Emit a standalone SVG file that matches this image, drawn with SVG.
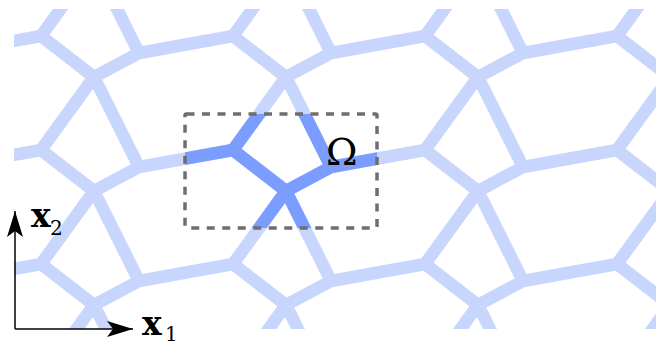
<svg xmlns="http://www.w3.org/2000/svg" xmlns:xlink="http://www.w3.org/1999/xlink" width="656" height="349" viewBox="0 0 656 349">
  <style>
    .light { fill: none; stroke: #c8d6fe; stroke-width: 12.5; stroke-linecap: round; stroke-linejoin: round; }
    .dark { fill: none; stroke: #7b9dff; stroke-width: 12.5; stroke-linecap: round; stroke-linejoin: round; }
    .dash { fill: none; stroke: #6e6e6e; stroke-width: 3.5; stroke-dasharray: 8 7.5; stroke-linejoin: round; }
    .axis { fill: none; stroke: #000; stroke-width: 1.5; }
    .lbl { font-family: "DejaVu Serif", "Liberation Serif", serif; fill: #000; }
  </style>
  <defs>
    <clipPath id="area"><rect x="14" y="9" width="660" height="320"/></clipPath>
    <clipPath id="boxclip"><rect x="185" y="114" width="192" height="114"/></clipPath>
    <g id="cell">
      <path d="M233,150 L286,191 M286,191 L331,167 M331,167 L425,150 M233,150 L286,77 M331,167 L286,77"/>
    </g>
    <g id="row">
      <use xlink:href="#cell" transform="translate(-384,0)"/>
      <use xlink:href="#cell" transform="translate(-192,0)"/>
      <use xlink:href="#cell"/>
      <use xlink:href="#cell" transform="translate(192,0)"/>
      <use xlink:href="#cell" transform="translate(384,0)"/>
    </g>
    <g id="tiling">
      <use xlink:href="#row" transform="translate(0,-114)"/>
      <use xlink:href="#row"/>
      <use xlink:href="#row" transform="translate(0,114)"/>
      <use xlink:href="#row" transform="translate(0,228)"/>
    </g>
    <marker id="arrow" markerUnits="userSpaceOnUse" markerWidth="30" markerHeight="20" viewBox="-28 -10 30 20" refX="0" refY="0" orient="auto">
      <path d="M0,0 L-26,-8 L-20,0 L-26,8 Z" fill="#000"/>
    </marker>
  </defs>

  <g id="lattice" class="light" clip-path="url(#area)">
    <use xlink:href="#tiling"/>
  </g>

  <g id="cell-omega" class="dark" clip-path="url(#boxclip)">
    <use xlink:href="#tiling"/>
  </g>

  <g id="box">
    <rect class="dash" x="185" y="114" width="192" height="114" rx="1.5"/>
    <text class="lbl" x="326" y="165" font-size="38">Ω</text>
  </g>

  <g id="axes">
    <path class="axis" d="M15,329 L15,211" marker-end="url(#arrow)"/>
    <path class="axis" d="M15,329 L133,329" marker-end="url(#arrow)"/>
  </g>

  <g id="label-x2">
    <text class="lbl" x="31" y="227" font-size="33" font-weight="bold">x</text>
    <text class="lbl" x="50" y="235" font-size="20">2</text>
  </g>
  <g id="label-x1">
    <text class="lbl" x="142" y="335" font-size="33" font-weight="bold">x</text>
    <text class="lbl" x="165" y="341" font-size="20">1</text>
  </g>
</svg>
